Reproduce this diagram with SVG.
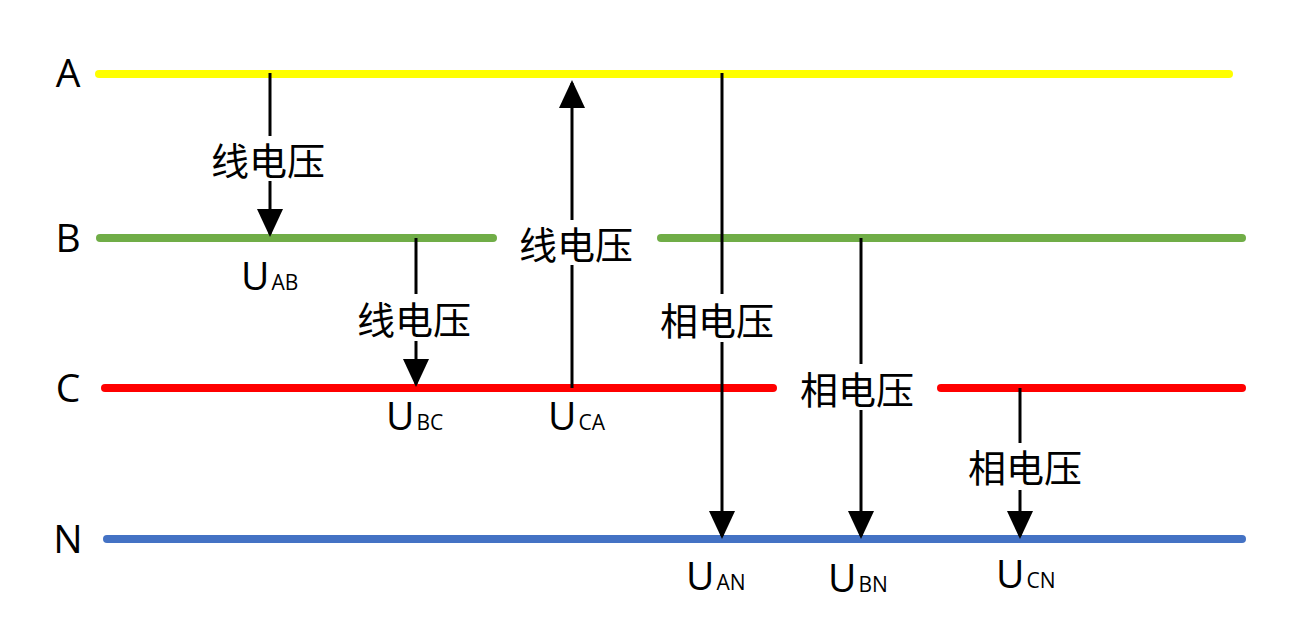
<svg xmlns="http://www.w3.org/2000/svg" width="1311" height="624" viewBox="0 0 1311 624">
<style>
.bus{stroke-width:8;stroke-linecap:round;fill:none}
.wire{stroke:#000;stroke-width:3;fill:none}
.lbl{font-family:"Open Sans","Liberation Sans",sans-serif;font-size:39px;fill:#000;text-anchor:middle}
.cn{font-family:"Noto Sans CJK SC","Noto Sans",sans-serif;font-size:38px;fill:#000;text-anchor:middle;dominant-baseline:central}
.u{font-family:"Open Sans","Liberation Sans",sans-serif;font-size:39px;fill:#000}
.sub{font-size:21px}
</style>
<defs>
<marker id="ah" markerUnits="userSpaceOnUse" markerWidth="28" markerHeight="26" viewBox="0 0 28 26" refX="25" refY="13" orient="auto">
<path d="M0,0 L28,13 L0,26 Z" fill="#000"/>
</marker>
</defs>
<rect width="1311" height="624" fill="#fff"/>
<g id="bus-A"><line class="bus" stroke="#FFFF00" x1="99" y1="74" x2="1229" y2="74"/><text class="lbl" x="68" y="87">A</text></g>
<g id="bus-B"><line class="bus" stroke="#70AD47" x1="100" y1="238" x2="493" y2="238"/><line class="bus" stroke="#70AD47" x1="661" y1="238" x2="1242" y2="238"/><text class="lbl" x="68" y="252">B</text></g>
<g id="bus-C"><line class="bus" stroke="#FF0000" x1="105" y1="388" x2="773" y2="388"/><line class="bus" stroke="#FF0000" x1="941" y1="388" x2="1242" y2="388"/><text class="lbl" x="68" y="402">C</text></g>
<g id="bus-N"><line class="bus" stroke="#4472C4" x1="107" y1="539" x2="1242" y2="539"/><text class="lbl" x="68" y="553">N</text></g>
<g id="connectors">
<line class="wire" x1="270" y1="73" x2="270" y2="136"/><line class="wire" x1="270" y1="181" x2="270" y2="234" marker-end="url(#ah)"/>
<line class="wire" x1="416" y1="238" x2="416" y2="294"/><line class="wire" x1="416" y1="341" x2="416" y2="384" marker-end="url(#ah)"/>
<line class="wire" x1="572" y1="388" x2="572" y2="265"/><line class="wire" x1="572" y1="220" x2="572" y2="83" marker-end="url(#ah)"/>
<line class="wire" x1="722" y1="73" x2="722" y2="294"/><line class="wire" x1="722" y1="342" x2="722" y2="536" marker-end="url(#ah)"/>
<line class="wire" x1="861" y1="238" x2="861" y2="364"/><line class="wire" x1="861" y1="410" x2="861" y2="536" marker-end="url(#ah)"/>
<line class="wire" x1="1020" y1="388" x2="1020" y2="443"/><line class="wire" x1="1020" y1="490" x2="1020" y2="536" marker-end="url(#ah)"/>
</g>
<g id="label-AB"><text class="cn" x="268" y="158">线电压</text><text class="u" x="241" y="290">U<tspan class="sub" dx="2">AB</tspan></text></g>
<g id="label-BC"><text class="cn" x="414" y="317">线电压</text><text class="u" x="386" y="430">U<tspan class="sub" dx="2">BC</tspan></text></g>
<g id="label-CA"><text class="cn" x="576" y="242">线电压</text><text class="u" x="548" y="430">U<tspan class="sub" dx="2">CA</tspan></text></g>
<g id="label-AN"><text class="cn" x="717" y="318">相电压</text><text class="u" x="686" y="590">U<tspan class="sub" dx="2">AN</tspan></text></g>
<g id="label-BN"><text class="cn" x="857" y="387">相电压</text><text class="u" x="828" y="592">U<tspan class="sub" dx="2">BN</tspan></text></g>
<g id="label-CN"><text class="cn" x="1025" y="465">相电压</text><text class="u" x="996" y="588">U<tspan class="sub" dx="2">CN</tspan></text></g>
</svg>
